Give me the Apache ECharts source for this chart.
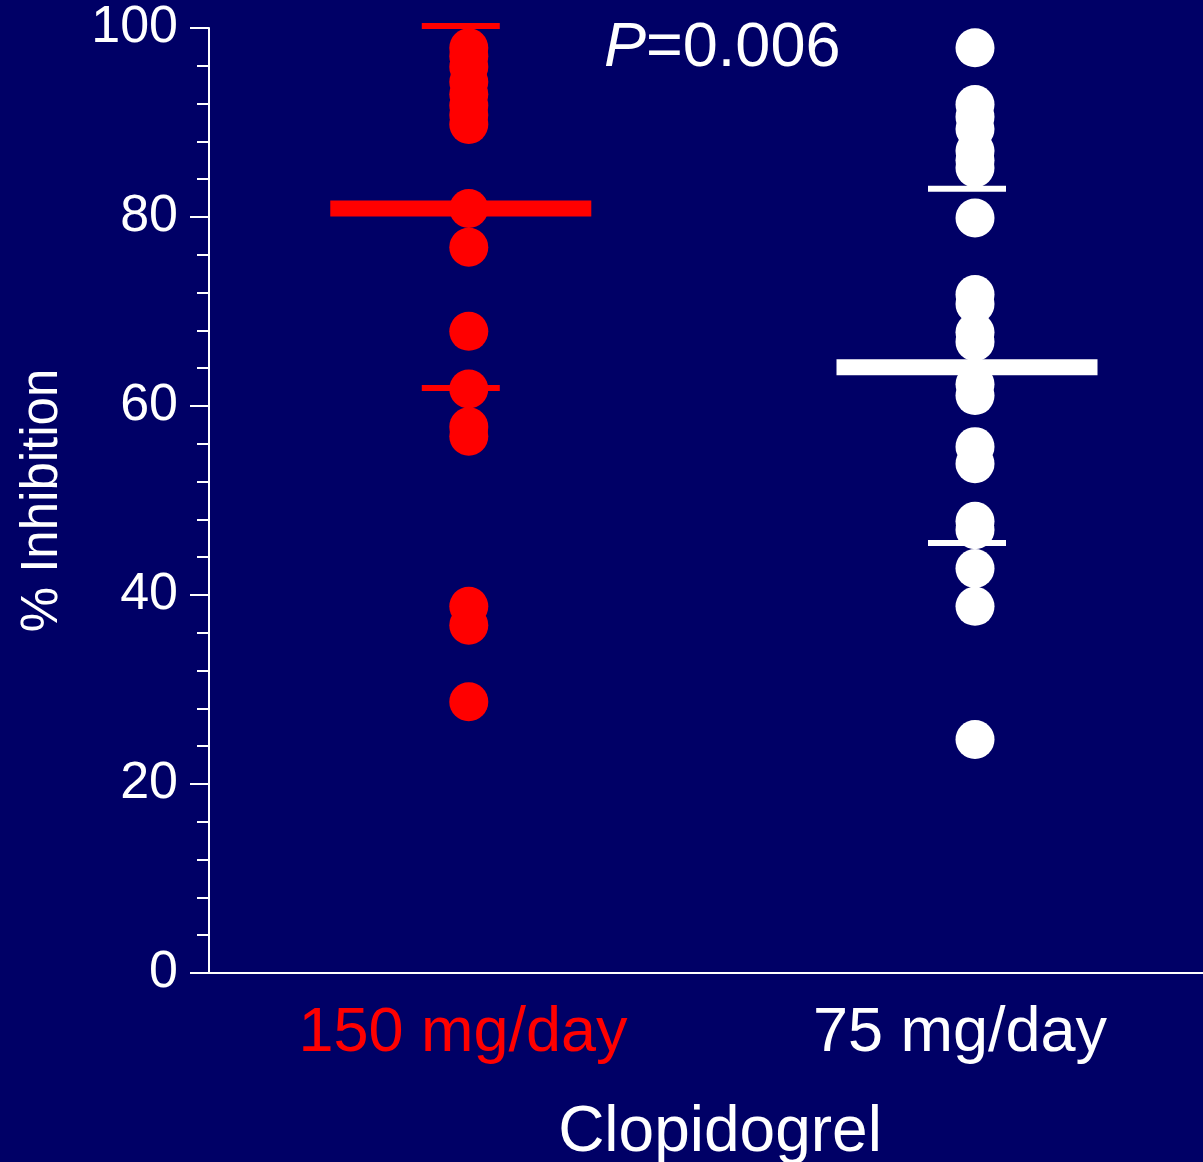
<!DOCTYPE html>
<html>
<head>
<meta charset="utf-8">
<title>Clopidogrel % Inhibition</title>
<script src="https://cdn.jsdelivr.net/npm/echarts@6/dist/echarts.min.js"></script>
<style>
  html, body { margin: 0; padding: 0; background: #000066; }
  #chart { width: 1203px; height: 1162px; }
</style>
</head>
<body>
<div id="chart"></div>
<script>
// Dose groups shown along the horizontal axis
const groups = ['150 mg/day', '75 mg/day'];
const groupColors = ['#ff0000', '#ffffff'];

// Individual patients, % inhibition
const dose150 = [97.9, 97.0, 95.9, 94.3, 93.0, 91.8, 90.8, 89.8,
                 80.9, 76.8, 67.9, 61.8, 57.8, 56.8, 38.8, 36.8, 28.7];
const dose75 = [97.9, 91.9, 90.6, 89.3, 87.0, 86.0, 85.2, 79.9,
                71.8, 70.8, 67.8, 66.8, 62.3, 61.1, 55.7, 53.9,
                47.8, 46.9, 42.8, 38.8, 24.7];

// Group mean and ±SD markers
const means = [80.9, 64.1];
const sdUpper = [100.2, 83.0];
const sdLower = [61.9, 45.5];

// Y axis scale
const yMin = 0, yMax = 100, yStep = 20;

const FONT = '"Liberation Sans", Arial, Helvetica, sans-serif';

// Group positions on the hidden value axis: group i sits at x = i + 1
const xRange = [0.4868, 2.4504];

const markers = [];
means.forEach((m, i) => markers.push([i + 1, m, 1, i]));
sdUpper.forEach((v, i) => markers.push([i + 1, v, 0, i]));
sdLower.forEach((v, i) => markers.push([i + 1, v, 0, i]));

const chart = echarts.init(document.getElementById('chart'), null, { renderer: 'canvas' });

chart.setOption({
  backgroundColor: '#000066',
  animation: false,
  textStyle: { fontFamily: FONT },
  title: {
    text: '{i|P}=0.006',
    left: 599,
    top: 12,
    textStyle: {
      color: '#ffffff', fontSize: 63, fontWeight: 'normal', fontFamily: FONT,
      rich: { i: { color: '#ffffff', fontSize: 63, fontStyle: 'italic', fontFamily: FONT } }
    }
  },
  grid: { left: 209, right: 0, top: 28, bottom: 189, containLabel: false, outerBoundsMode: 'none' },
  xAxis: [
    {
      type: 'category',
      data: groups,
      boundaryGap: true,
      axisLine: { show: true, lineStyle: { color: '#ffffff', width: 2 } },
      axisTick: { show: false },
      axisLabel: {
        margin: 29,
        fontSize: 63,
        fontFamily: FONT,
        padding: [0, 0, 0, 11],
        color: (v, idx) => groupColors[idx]
      },
      name: 'Clopidogrel',
      nameLocation: 'middle',
      nameGap: 128,
      nameTextStyle: { color: '#ffffff', fontSize: 64, fontFamily: FONT, padding: [0, 0, 0, 28] },
      splitLine: { show: false }
    },
    {
      type: 'value',
      min: xRange[0],
      max: xRange[1],
      show: false
    }
  ],
  yAxis: {
    type: 'value',
    min: yMin,
    max: yMax,
    interval: yStep,
    axisLine: { show: true, lineStyle: { color: '#ffffff', width: 2 } },
    axisTick: { show: true, length: 19, lineStyle: { color: '#ffffff', width: 2 } },
    minorTick: { show: true, splitNumber: 5, length: 12, lineStyle: { color: '#ffffff', width: 2 } },
    splitLine: { show: false },
    axisLabel: { color: '#ffffff', fontSize: 52, margin: 31, fontFamily: FONT },
    name: '% Inhibition',
    nameLocation: 'middle',
    nameGap: 141,
    nameRotate: 90,
    nameTextStyle: { color: '#ffffff', fontSize: 51, fontFamily: FONT }
  },
  series: [
    {
      type: 'scatter',
      xAxisIndex: 1,
      symbol: 'circle',
      symbolSize: 39,
      clip: false,
      itemStyle: { color: groupColors[0], opacity: 1 },
      data: dose150.map(v => [1, v])
    },
    {
      type: 'scatter',
      xAxisIndex: 1,
      symbol: 'circle',
      symbolSize: 39,
      clip: false,
      itemStyle: { color: groupColors[1], opacity: 1 },
      data: dose75.map(v => [2, v])
    },
    {
      // Mean (long thick bar) and SD (short thin bar) markers
      type: 'custom',
      xAxisIndex: 1,
      clip: false,
      data: markers,
      renderItem: (params, api) => {
        const p = api.coord([api.value(0), api.value(1)]);
        const isMean = api.value(2) === 1;
        const w = isMean ? 261 : 78;
        const h = isMean ? 16 : 6;
        const cx = p[0] - 8;
        return {
          type: 'rect',
          shape: { x: cx - w / 2, y: p[1] - h / 2, width: w, height: h },
          style: { fill: groupColors[api.value(3)] }
        };
      }
    }
  ]
});
</script>
</body>
</html>
